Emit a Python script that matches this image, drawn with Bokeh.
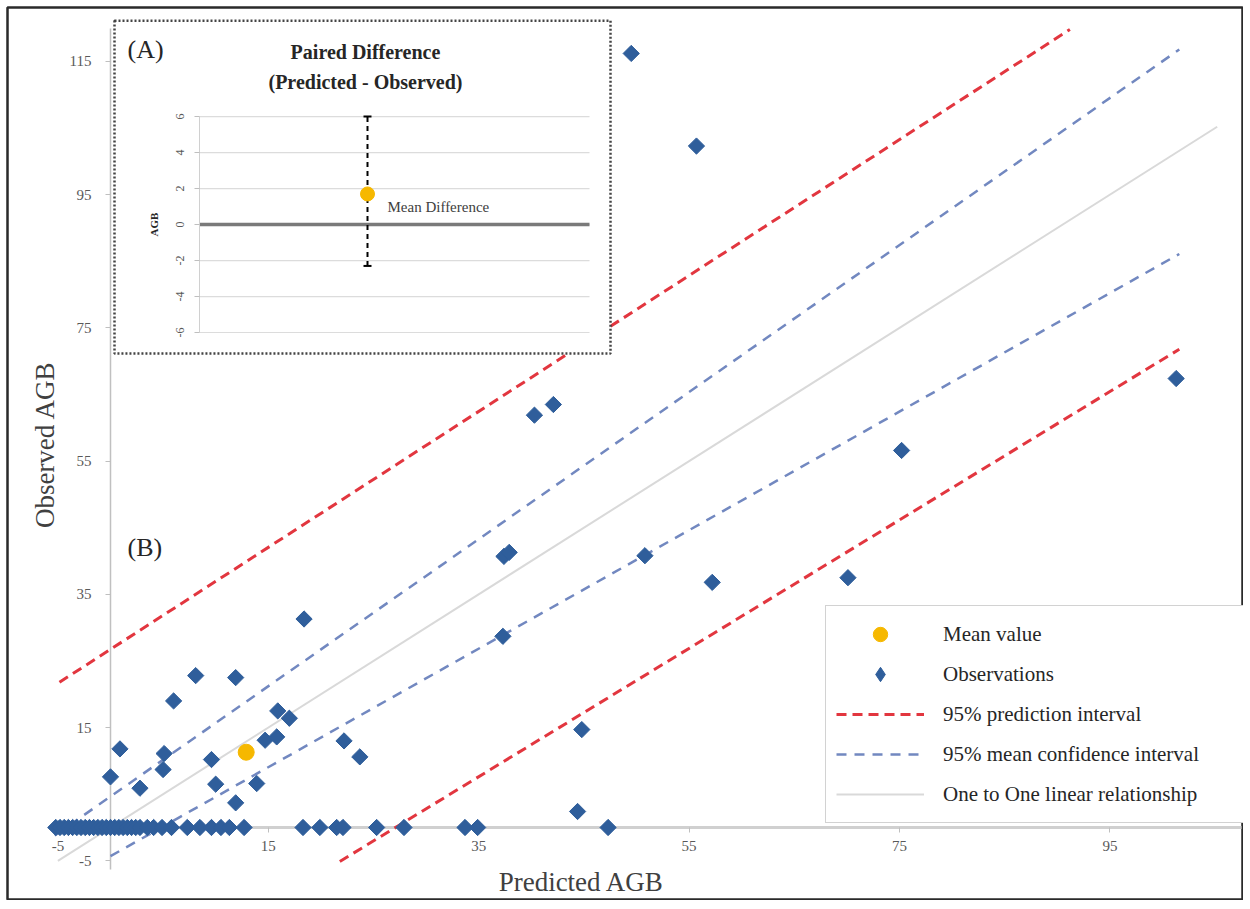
import math
from bokeh.plotting import figure
from bokeh.models import Range1d, LinearAxis, FixedTicker, Label, Legend, LegendItem
from bokeh.embed import file_html
from bokeh.resources import INLINE
from bokeh.core.properties import value

# ---------------- data ----------------
x_ticks = [-5, 15, 35, 55, 75, 95]
y_ticks = [-5, 15, 35, 55, 75, 95, 115]

# observations (predicted, observed)
obs_x = [49.5, 55.7, 101.3, 40.3, 42.1, 75.2, 37.4, 37.9, 50.8, 57.2, 70.1, 37.3, 44.8, 44.4,
         18.4, 8.1, 11.9, 6.0, 15.9, 17.0, 14.7, 15.8, 22.2, 23.7, 0.9, 5.1, 5.0, 9.6, 0.0,
         2.8, 10.0, 13.9, 11.9,
         -5.2, -4.8, -4.4, -4.0, -3.6, -3.2, -2.8, -2.4, -2.0, -1.6, -1.2, -0.8, -0.4, 0.0,
         0.4, 0.8, 1.2, 1.6, 2.0, 2.4, 2.8, 3.5, 4.1, 4.9, 5.8, 7.3, 8.5, 9.6, 10.5, 11.3,
         12.7, 18.3, 19.9, 21.5, 22.1, 25.3, 27.9, 33.7, 34.9, 47.3]
obs_y = [116.2, 102.3, 67.4, 61.9, 63.5, 56.6, 40.7, 41.3, 40.8, 36.8, 37.5, 28.7, 14.7, 2.4,
         31.3, 22.8, 22.5, 19.0, 17.5, 16.4, 13.1, 13.6, 13.0, 10.6, 11.8, 11.1, 8.7, 10.2, 7.6,
         5.9, 6.5, 6.6, 3.7,
         0, 0, 0, 0, 0, 0, 0, 0, 0, 0, 0, 0, 0, 0,
         0, 0, 0, 0, 0, 0, 0, 0, 0, 0, 0, 0, 0, 0, 0, 0,
         0, 0, 0, 0, 0, 0, 0, 0, 0, 0]

mean_x = [12.9]
mean_y = [11.3]

one_to_one_x = [-5.0, 105.2]
one_to_one_y = [-5.0, 105.2]
pred_upper_x = [-4.85, 91.2]
pred_upper_y = [21.8, 119.8]
pred_lower_x = [21.8, 101.6]
pred_lower_y = [-5.1, 71.8]
conf_upper_x = [-5.3, 101.6]
conf_upper_y = [-1.2, 116.8]
conf_lower_x = [0.0, 101.6]
conf_lower_y = [-4.3, 86.1]

# inset (A): paired difference
inset_ticks = [-6, -4, -2, 0, 2, 4, 6]
diff_x = [1]
diff_mean = [1.7]
diff_upper = [6.0]
diff_lower = [-2.3]

legend_labels = ["Mean value", "Observations", "95% prediction interval",
                 "95% mean confidence interval", "One to One linear relationship"]

# ---------------- styles / layout ----------------
SERIF = "Liberation Serif"
BLUE = "#2f5e9b"
ORANGE = "#f6b800"
RED = "#e2363f"
CI = "#7288c0"
ONE = "#d9d9d9"

FW, FH = 1236, 893          # frame size
OFF = 7                     # border offset from page corner
GRID_L, GRID_R = -0.68, 3.22          # inset grid extent (inset x units)
BOX = dict(left=-1.53, right=3.43, top=11.33, bottom=-7.17)

p = figure(width=FW + OFF, height=FH + OFF, x_range=Range1d(-9.79, 107.7),
           y_range=Range1d(-10.96, 123.1), x_axis_type=None, y_axis_type=None,
           output_backend="svg", toolbar_location=None, min_border=0)
p.min_border_left = OFF
p.min_border_top = OFF
p.min_border_right = 0
p.min_border_bottom = 0
p.outline_line_color = "#2a2a2a"
p.outline_line_width = 2.5
p.background_fill_color = "white"
p.border_fill_color = "white"
p.extra_x_ranges = {"ix": Range1d(-2.6, 9.76)}
p.extra_y_ranges = {"iy": Range1d(-37.56, 12.06)}


def neg_overrides(ticks):
    return {t: str(t) for t in ticks if t < 0}


# main axes crossing at the origin
xa = LinearAxis(fixed_location=0, bounds=(-5.6, 107.5), ticker=FixedTicker(ticks=x_ticks),
                level="underlay", major_label_overrides=neg_overrides(x_ticks))
ya = LinearAxis(fixed_location=0, bounds=(-6.3, 120), ticker=FixedTicker(ticks=y_ticks),
                level="underlay", major_label_overrides=neg_overrides(y_ticks))
for ax in (xa, ya):
    ax.major_tick_line_color = "#bfbfbf"
    ax.major_tick_out = 5
    ax.major_tick_in = 0
    ax.minor_tick_out = 0
    ax.minor_tick_in = 0
    ax.major_label_text_font = SERIF
    ax.major_label_text_font_size = "15px"
    ax.major_label_text_color = "#595959"
xa.axis_line_color = "#d0d0d0"
xa.axis_line_width = 3
xa.major_label_standoff = 9
ya.axis_line_color = "#c0c0c0"
ya.axis_line_width = 1.5
ya.major_label_standoff = 14
p.add_layout(xa, "below")
p.add_layout(ya, "left")

# main glyphs
oto = p.line(one_to_one_x, one_to_one_y, line_color=ONE, line_width=2)
ciu = p.line(conf_upper_x, conf_upper_y, line_color=CI, line_width=2.5, line_dash="10 8")
p.line(conf_lower_x, conf_lower_y, line_color=CI, line_width=2.5, line_dash="10 8")
piu = p.line(pred_upper_x, pred_upper_y, line_color=RED, line_width=3, line_dash="10 6")
p.line(pred_lower_x, pred_lower_y, line_color=RED, line_width=3, line_dash="10 6")
p.scatter(obs_x, obs_y, marker="square", size=11.5, angle=math.pi / 4,
          fill_color=BLUE, line_color=BLUE)
obs_leg = p.scatter(obs_x[:1], obs_y[:1], marker="diamond", fill_color=BLUE, line_color=BLUE,
                    visible=False)
mean_r = p.scatter(mean_x, mean_y, marker="circle", size=16, fill_color=ORANGE, line_color=ORANGE)

# inset (A)
IR = dict(x_range_name="ix", y_range_name="iy")
p.quad(left=[BOX["left"]], right=[BOX["right"]], top=[BOX["top"]], bottom=[BOX["bottom"]],
       fill_color="white", line_color="#444444", line_width=2.5, line_dash="2 2", **IR)
p.segment(x0=[GRID_L] * len(inset_ticks), y0=inset_ticks, x1=[GRID_R] * len(inset_ticks),
          y1=inset_ticks, line_color="#dcdcdc", line_width=1.2, **IR)
p.segment(x0=[GRID_L], y0=[0], x1=[GRID_R], y1=[0], line_color="#7a7a7a", line_width=3.5, **IR)
p.segment(x0=diff_x, y0=diff_lower, x1=diff_x, y1=diff_upper, line_color="black",
          line_width=2, line_dash="5 4", **IR)
p.scatter(diff_x * 2, diff_upper + diff_lower, marker="dash", size=8, line_color="black",
          line_width=2, **IR)
p.scatter(diff_x, diff_mean, marker="circle", size=14, fill_color=ORANGE, line_color=ORANGE, **IR)
p.text(x=diff_x, y=diff_mean, text=["Mean Difference"], x_offset=20, y_offset=13,
       text_font=value(SERIF), text_font_size="15px", text_baseline="middle", text_align="left",
       text_color="#404040", **IR)

ia = LinearAxis(x_range_name="ix", y_range_name="iy", fixed_location=GRID_L, bounds=(-6, 6),
                ticker=FixedTicker(ticks=inset_ticks), axis_label="AGB",
                major_label_orientation="vertical",
                major_label_overrides=neg_overrides(inset_ticks))
ia.axis_line_color = "#d0d0d0"
ia.major_tick_line_color = "#bfbfbf"
ia.major_tick_out = 5
ia.major_tick_in = 0
ia.minor_tick_out = 0
ia.minor_tick_in = 0
ia.major_label_text_font = SERIF
ia.major_label_text_font_size = "12px"
ia.major_label_text_color = "#595959"
ia.major_label_standoff = 10
ia.axis_label_text_font = SERIF
ia.axis_label_text_font_size = "11px"
ia.axis_label_text_font_style = "bold"
ia.axis_label_text_color = "#262626"
ia.axis_label_standoff = 14
p.add_layout(ia, "left")


# texts (screen coordinates relative to the frame's bottom-left corner)
def lab(x, y, text, size, **kw):
    opts = dict(x=x, y=y, x_units="screen", y_units="screen", text=text,
                text_font=SERIF, text_font_size=size, text_color="#262626",
                text_baseline="middle")
    opts.update(kw)
    p.add_layout(Label(**opts))


lab(120, 851, "(A)", "26px", text_align="left")
lab(358, 849, "Paired Difference", "20px", text_align="center", text_font_style="bold")
lab(358, 819, "(Predicted - Observed)", "20px", text_align="center", text_font_style="bold")
lab(120, 353, "(B)", "26px", text_align="left")
lab(37, 456, "Observed AGB", "27px", text_align="center", angle=math.pi / 2, text_color="#404040")
lab(574, 19, "Predicted AGB", "27px", text_align="center", text_color="#404040")

# legend
legend = Legend(items=[
    LegendItem(label=legend_labels[0], renderers=[mean_r]),
    LegendItem(label=legend_labels[1], renderers=[obs_leg]),
    LegendItem(label=legend_labels[2], renderers=[piu]),
    LegendItem(label=legend_labels[3], renderers=[ciu]),
    LegendItem(label=legend_labels[4], renderers=[oto]),
], location=(818, 77), padding=10, spacing=4, glyph_width=88, glyph_height=36,
    label_height=36, label_width=290, label_standoff=19, margin=0)
legend.label_text_font = SERIF
legend.label_text_font_size = "21px"
legend.label_text_color = "#262626"
legend.border_line_color = "#a6a6a6"
legend.border_line_width = 1.5
legend.background_fill_alpha = 1
p.add_layout(legend)

open("out.html", "w").write(file_html(p, INLINE))
